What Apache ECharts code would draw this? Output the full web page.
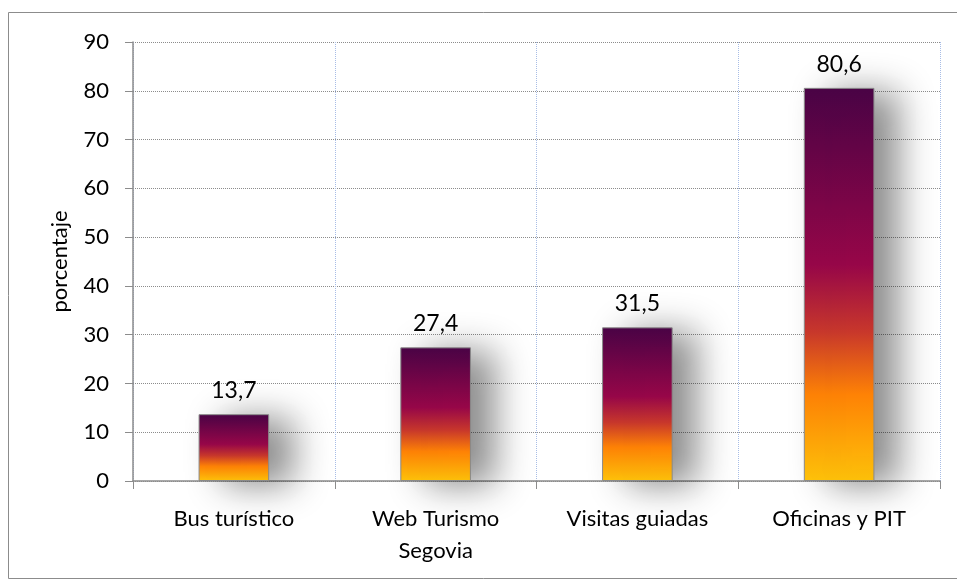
<!DOCTYPE html>
<html>
<head>
<meta charset="utf-8">
<script src="https://cdn.jsdelivr.net/npm/echarts@6/dist/echarts.min.js"></script>
<style>
  html, body { margin: 0; padding: 0; background: #fff; }
  #chart { width: 957px; height: 582px; }
</style>
</head>
<body>
<div id="chart"></div>
<script>
const categories = ['Bus turístico', 'Web Turismo\nSegovia', 'Visitas guiadas', 'Oficinas y PIT'];
const values = [13.7, 27.4, 31.5, 80.6];
const yTicks = {min: 0, max: 90, interval: 10};

const font = 'Lato, "Open Sans", sans-serif';

const barGradient = new echarts.graphic.LinearGradient(0, 0, 0, 1, [
  {offset: 0, color: '#4a0446'},
  {offset: 0.45, color: '#980749'},
  {offset: 0.62, color: '#c9382c'},
  {offset: 0.78, color: '#ff8306'},
  {offset: 1, color: '#ffc30a'},
]);

const chart = echarts.init(document.getElementById('chart'), null, {renderer: 'canvas'});
chart.setOption({
  animation: false,
  graphic: [{
    type: 'rect',
    shape: {x: 8.5, y: 12.5, width: 960, height: 566},
    style: {fill: 'none', stroke: '#8c8c8c', lineWidth: 1},
    silent: true,
  }],
  grid: {left: 133, right: 17, top: 42, bottom: 101},
  xAxis: {
    type: 'category',
    data: categories,
    axisLine: {lineStyle: {color: '#8c8c8c', width: 1.5}},
    axisTick: {show: true, length: 8, lineStyle: {color: '#8c8c8c'}},
    axisLabel: {color: '#000', fontFamily: font, fontSize: 22, margin: 22, lineHeight: 32},
    splitLine: {show: true, lineStyle: {color: '#a8bde6', type: 'dotted'}},
  },
  yAxis: {
    type: 'value',
    min: yTicks.min,
    max: yTicks.max,
    interval: yTicks.interval,
    name: 'porcentaje',
    nameLocation: 'middle',
    nameGap: 62,
    nameTextStyle: {color: '#000', fontFamily: font, fontSize: 22},
    axisLine: {show: true, lineStyle: {color: '#8c8c8c', width: 1.5}},
    axisTick: {show: true, length: 8, lineStyle: {color: '#8c8c8c'}},
    axisLabel: {color: '#000', fontFamily: font, fontSize: 22, margin: 24},
    splitLine: {show: true, lineStyle: {color: '#8c8c8c', type: 'dotted'}},
  },
  series: [{
    type: 'bar',
    data: values,
    barWidth: '35%',
    itemStyle: {
      color: barGradient,
      borderColor: '#8a8a8a',
      borderWidth: 1,
      shadowColor: 'rgba(0,0,0,0.45)',
      shadowBlur: 36,
      shadowOffsetX: 24,
      shadowOffsetY: 4,
    },
    label: {
      show: true,
      position: 'top',
      distance: 12,
      color: '#000',
      fontFamily: font,
      fontSize: 23,
      formatter: (p) => String(p.value).replace('.', ','),
    },
  }],
});
</script>
</body>
</html>
